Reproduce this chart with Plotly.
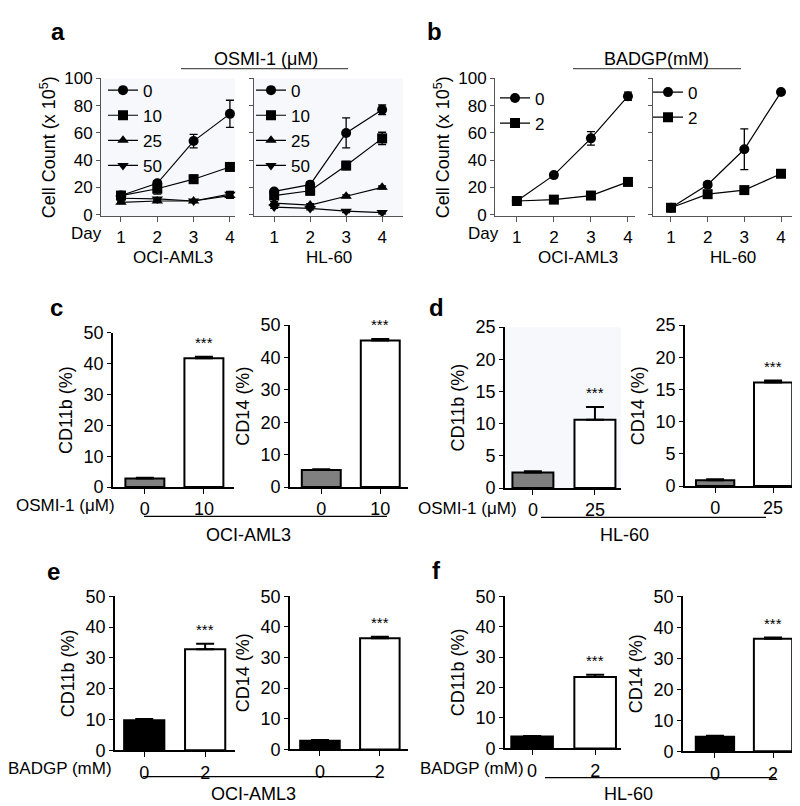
import plotly.graph_objects as go

##___Data___
days = [1, 2, 3, 4]

# a: OSMI-1 (uM) cell counts (x 10^5)
osmi_doses = ["0", "10", "25", "50"]
a_aml3_mean = [[14, 23, 54, 74], [14, 19, 26, 35], [9, 10, 10, 14], [12, 11.5, 10, 15]]
a_aml3_err = [[1, 2, 5, 10], [2, 4, 3, 2], [1, 1, 1, 2], [1, 1, 1, 2]]
a_hl60_mean = [[17, 22, 60, 77], [14, 17.5, 36, 56], [8.5, 7, 13.5, 20], [5.5, 4.5, 2.5, 1.5]]
a_hl60_err = [[1, 2, 11, 3.5], [2, 3, 3, 4.5], [1, 1, 1, 1], [1, 1, 1, 1]]

# b: BADGP (mM) cell counts (x 10^5)
badgp_doses = ["0", "2"]
b_aml3_mean = [[10, 29, 56, 87], [10, 11, 14, 24]]
b_aml3_err = [[1, 1.5, 5, 3], [2, 1, 1.5, 2]]
b_hl60_mean = [[5, 22, 48, 90], [5, 15, 18, 30]]
b_hl60_err = [[1, 2, 15, 1.5], [1, 1.5, 2, 2]]

# c-f: differentiation markers (%)
c_cats = ["0", "10"]
c_cd11b, c_cd11b_err = [2.8, 41.8], [0.2, 0.5]
c_cd14, c_cd14_err = [5.3, 45.3], [0.2, 0.4]
d_cats = ["0", "25"]
d_cd11b, d_cd11b_err = [2.4, 10.6], [0.2, 2.0]
d_cd14, d_cd14_err = [0.9, 16.1], [0.15, 0.3]
e_cats = ["0", "2"]
e_cd11b, e_cd11b_err = [9.8, 32.8], [0.4, 1.8]
e_cd14, e_cd14_err = [2.8, 36.3], [0.3, 0.5]
f_cats = ["0", "2"]
f_cd11b, f_cd11b_err = [3.9, 23.5], [0.2, 0.7]
f_cd14, f_cd14_err = [4.7, 36.3], [0.3, 0.4]

##___Layout helpers___
W, H = 800, 806
FONT = "Liberation Sans, Arial, sans-serif"
BG = "#f6f8fc"
FS = 18


def px_x(x):
    return x / W


def px_y(y):
    return 1 - y / H


fig = go.Figure()
layout = dict(width=W, height=H, margin=dict(l=0, r=0, t=0, b=0),
              paper_bgcolor="white", plot_bgcolor="white",
              font=dict(family=FONT, size=FS, color="black"),
              showlegend=True, shapes=[], annotations=[])


def add_axes(n, x0, x1, top, bottom, xrange, yrange, ytick, ytitle=None,
             ylabels=True, line_col="#444", lw=1, bg="white", xticks=None, xtext=None,
             xstandoff=0, ystandoff=0, fs=FS):
    xa = "xaxis" if n == 1 else f"xaxis{n}"
    ya = "yaxis" if n == 1 else f"yaxis{n}"
    layout[xa] = dict(domain=[px_x(x0), px_x(x1)], anchor=f"y{n if n > 1 else ''}",
                      range=xrange, showgrid=False, zeroline=False, showline=True,
                      linecolor=line_col, linewidth=lw, ticks="outside", ticklen=5,
                      tickcolor=line_col, tickwidth=1, tickfont=dict(size=fs),
                      ticklabelstandoff=xstandoff)
    if xticks is not None:
        layout[xa].update(tickmode="array", tickvals=xticks, ticktext=xtext)
    layout[ya] = dict(domain=[px_y(bottom), px_y(top)], anchor=f"x{n if n > 1 else ''}",
                      range=yrange, dtick=ytick, showgrid=False, zeroline=False,
                      showline=True, linecolor=line_col, linewidth=lw, ticks="outside",
                      ticklen=4, tickcolor=line_col, tickwidth=1,
                      showticklabels=ylabels, tickfont=dict(size=fs))
    if ytitle:
        layout[ya]["title"] = dict(text=ytitle, font=dict(size=FS), standoff=ystandoff)
    # plot background panel
    layout["shapes"].append(dict(type="rect", xref="paper", yref="paper", layer="below",
                                 x0=px_x(x0), x1=px_x(x1), y0=px_y(bottom), y1=px_y(top),
                                 fillcolor=bg, line=dict(width=0)))


symbols = ["circle", "square", "triangle-up", "triangle-down"]


def add_growth(n, means, errs, doses, legend_name):
    for i, (m, e) in enumerate(zip(means, errs)):
        fig.add_trace(go.Scatter(
            x=days, y=m, mode="lines+markers", name=doses[i],
            xaxis=f"x{n if n > 1 else ''}", yaxis=f"y{n if n > 1 else ''}",
            line=dict(color="black", width=1.2),
            marker=dict(symbol=symbols[i], size=10, color="black"),
            error_y=dict(type="data", array=e, color="black", thickness=1.3, width=4),
            legend=legend_name, cliponaxis=False))


def add_bars(n, cats, vals, errs, ctrl_color, star_gap=4):
    fig.add_trace(go.Bar(
        x=[0, 1], y=vals, width=0.66,
        xaxis=f"x{n}", yaxis=f"y{n}", showlegend=False,
        marker=dict(color=[ctrl_color, "white"], line=dict(color="black", width=2)),
        error_y=dict(type="data", symmetric=False, array=errs, arrayminus=[0, 0],
                     color="black", thickness=2, width=9)))
    layout["annotations"].append(dict(
        x=1, y=vals[1] + errs[1], xref=f"x{n}", yref=f"y{n}", text="***",
        showarrow=False, yanchor="bottom", yshift=star_gap, font=dict(size=15)))


day_text = ["1", "2", "3", "4"]
# a
add_axes(1, 93, 227, 62, 203, [0.45, 4.14], [-1, 100], 20,
         "Cell Count (x 10<sup>5</sup>)", line_col="#555", bg=BG, xticks=days, xtext=day_text,
         xstandoff=1, ystandoff=3, fs=17)
add_axes(2, 246, 395, 62, 203, [0.44, 4.58], [-1, 100], 20,
         ylabels=False, line_col="#555", bg=BG, xticks=days, xtext=day_text, xstandoff=1, fs=17)
add_growth(1, a_aml3_mean, a_aml3_err, osmi_doses, "legend")
add_growth(2, a_hl60_mean, a_hl60_err, osmi_doses, "legend2")

# b
add_axes(3, 487, 627, 62, 203, [0.41, 4.19], [-1, 100], 20,
         "Cell Count (x 10<sup>5</sup>)", line_col="#555", xticks=days, xtext=day_text,
         xstandoff=1, ystandoff=3, fs=17)
add_axes(4, 645, 795, 62, 203, [0.51, 4.6], [-1, 100], 20,
         ylabels=False, line_col="#555", xticks=days, xtext=day_text, xstandoff=1, fs=17)
add_growth(3, b_aml3_mean, b_aml3_err, badgp_doses, "legend3")
add_growth(4, b_hl60_mean, b_hl60_err, badgp_doses, "legend4")

# c-f bar panels
bar_panels = [
    # n, x0, x1, top, bottom, xrange, ymax, dtick, title, cats, vals, errs, colour, bg
    (5, 105, 226, 323, 481, [-0.54, 1.51], 50, 10, "CD11b (%)", c_cats, c_cd11b, c_cd11b_err, "#808080", "white"),
    (6, 282, 400, 315, 481, [-0.53, 1.47], 50, 10, "CD14 (%)", c_cats, c_cd14, c_cd14_err, "#808080", "white"),
    (7, 497, 613, 317, 482, [-0.45, 1.42], 25, 5, "CD11b (%)", d_cats, d_cd11b, d_cd11b_err, "#808080", BG),
    (8, 677, 797, 315, 480, [-0.52, 1.55], 25, 5, "CD14 (%)", d_cats, d_cd14, d_cd14_err, "#808080", "white"),
    (9, 107, 227, 593, 751, [-0.48, 1.49], 50, 10, "CD11b (%)", e_cats, e_cd11b, e_cd11b_err, "black", "white"),
    (10, 282, 400, 593, 750, [-0.5, 1.47], 50, 10, "CD14 (%)", e_cats, e_cd14, e_cd14_err, "black", "white"),
    (11, 497, 613, 593, 749, [-0.43, 1.41], 50, 10, "CD11b (%)", f_cats, f_cd11b, f_cd11b_err, "black", "white"),
    (12, 675, 797, 593, 752, [-0.55, 1.55], 50, 10, "CD14 (%)", f_cats, f_cd14, f_cd14_err, "black", "white"),
]
for n, x0, x1, top, bot, xr, ymax, dt, title, cats, vals, errs, col, bg in bar_panels:
    add_axes(n, x0, x1, top, bot, xr, [0, ymax], dt, title, line_col="black", lw=1.6,
             bg=bg, xticks=[0, 1], xtext=cats, ystandoff=6)
    add_bars(n, cats, vals, errs, col)

# legends
leg_common = dict(bgcolor="rgba(0,0,0,0)", font=dict(size=17), itemwidth=30,
                  tracegroupgap=0, xanchor="left", yanchor="top", borderwidth=0)
layout["legend"] = dict(x=px_x(95), y=px_y(56), **leg_common)
layout["legend2"] = dict(x=px_x(243), y=px_y(56), **leg_common)
layout["legend3"] = dict(x=px_x(487), y=px_y(64), **leg_common)
layout["legend4"] = dict(x=px_x(640), y=px_y(58), **leg_common)


def text(x, y, s, size=FS, bold=False):
    layout["annotations"].append(dict(
        x=px_x(x), y=px_y(y), xref="paper", yref="paper", showarrow=False,
        text=f"<b>{s}</b>" if bold else s, font=dict(size=size),
        xanchor="center", yanchor="middle"))


def hline(x0, x1, y, col="black", w=1.2):
    layout["shapes"].append(dict(type="line", xref="paper", yref="paper",
                                 x0=px_x(x0), x1=px_x(x1), y0=px_y(y), y1=px_y(y),
                                 line=dict(color=col, width=w)))


# panel letters
for s, x, y in [("a", 50, 14), ("b", 427, 14), ("c", 48, 297), ("d", 428, 297),
                ("e", 45, 568), ("f", 428, 567)]:
    text(x, y, s, size=24, bold=True)

# a / b labels
text(258, 42, "OSMI-1 (μM)")
hline(173, 340, 52, col="#555")
text(78, 221, "Day", size=17)
text(165, 246, "OCI-AML3", size=17)
text(321, 246, "HL-60", size=17)
text(648, 42, "BADGP(mM)")
hline(565, 733, 52, col="#555")
text(475, 221, "Day", size=17)
text(570, 246, "OCI-AML3", size=17)
text(725, 246, "HL-60", size=17)

# c / d labels
text(58, 500, "OSMI-1 (μM)", size=17)
hline(136, 379, 511)
text(240, 530, "OCI-AML3")
text(459, 503, "OSMI-1 (μM)", size=17)
hline(533, 758, 512)
text(616, 530, "HL-60")

# e / f labels
text(52, 770, "BADGP (mM)", size=17)
hline(135, 370, 778)
text(245, 796, "OCI-AML3")
text(464, 770, "BADGP (mM)", size=17)
hline(537, 768, 779)
text(620, 796, "HL-60")

fig.update_layout(**layout)
fig.write_html("out.html")
